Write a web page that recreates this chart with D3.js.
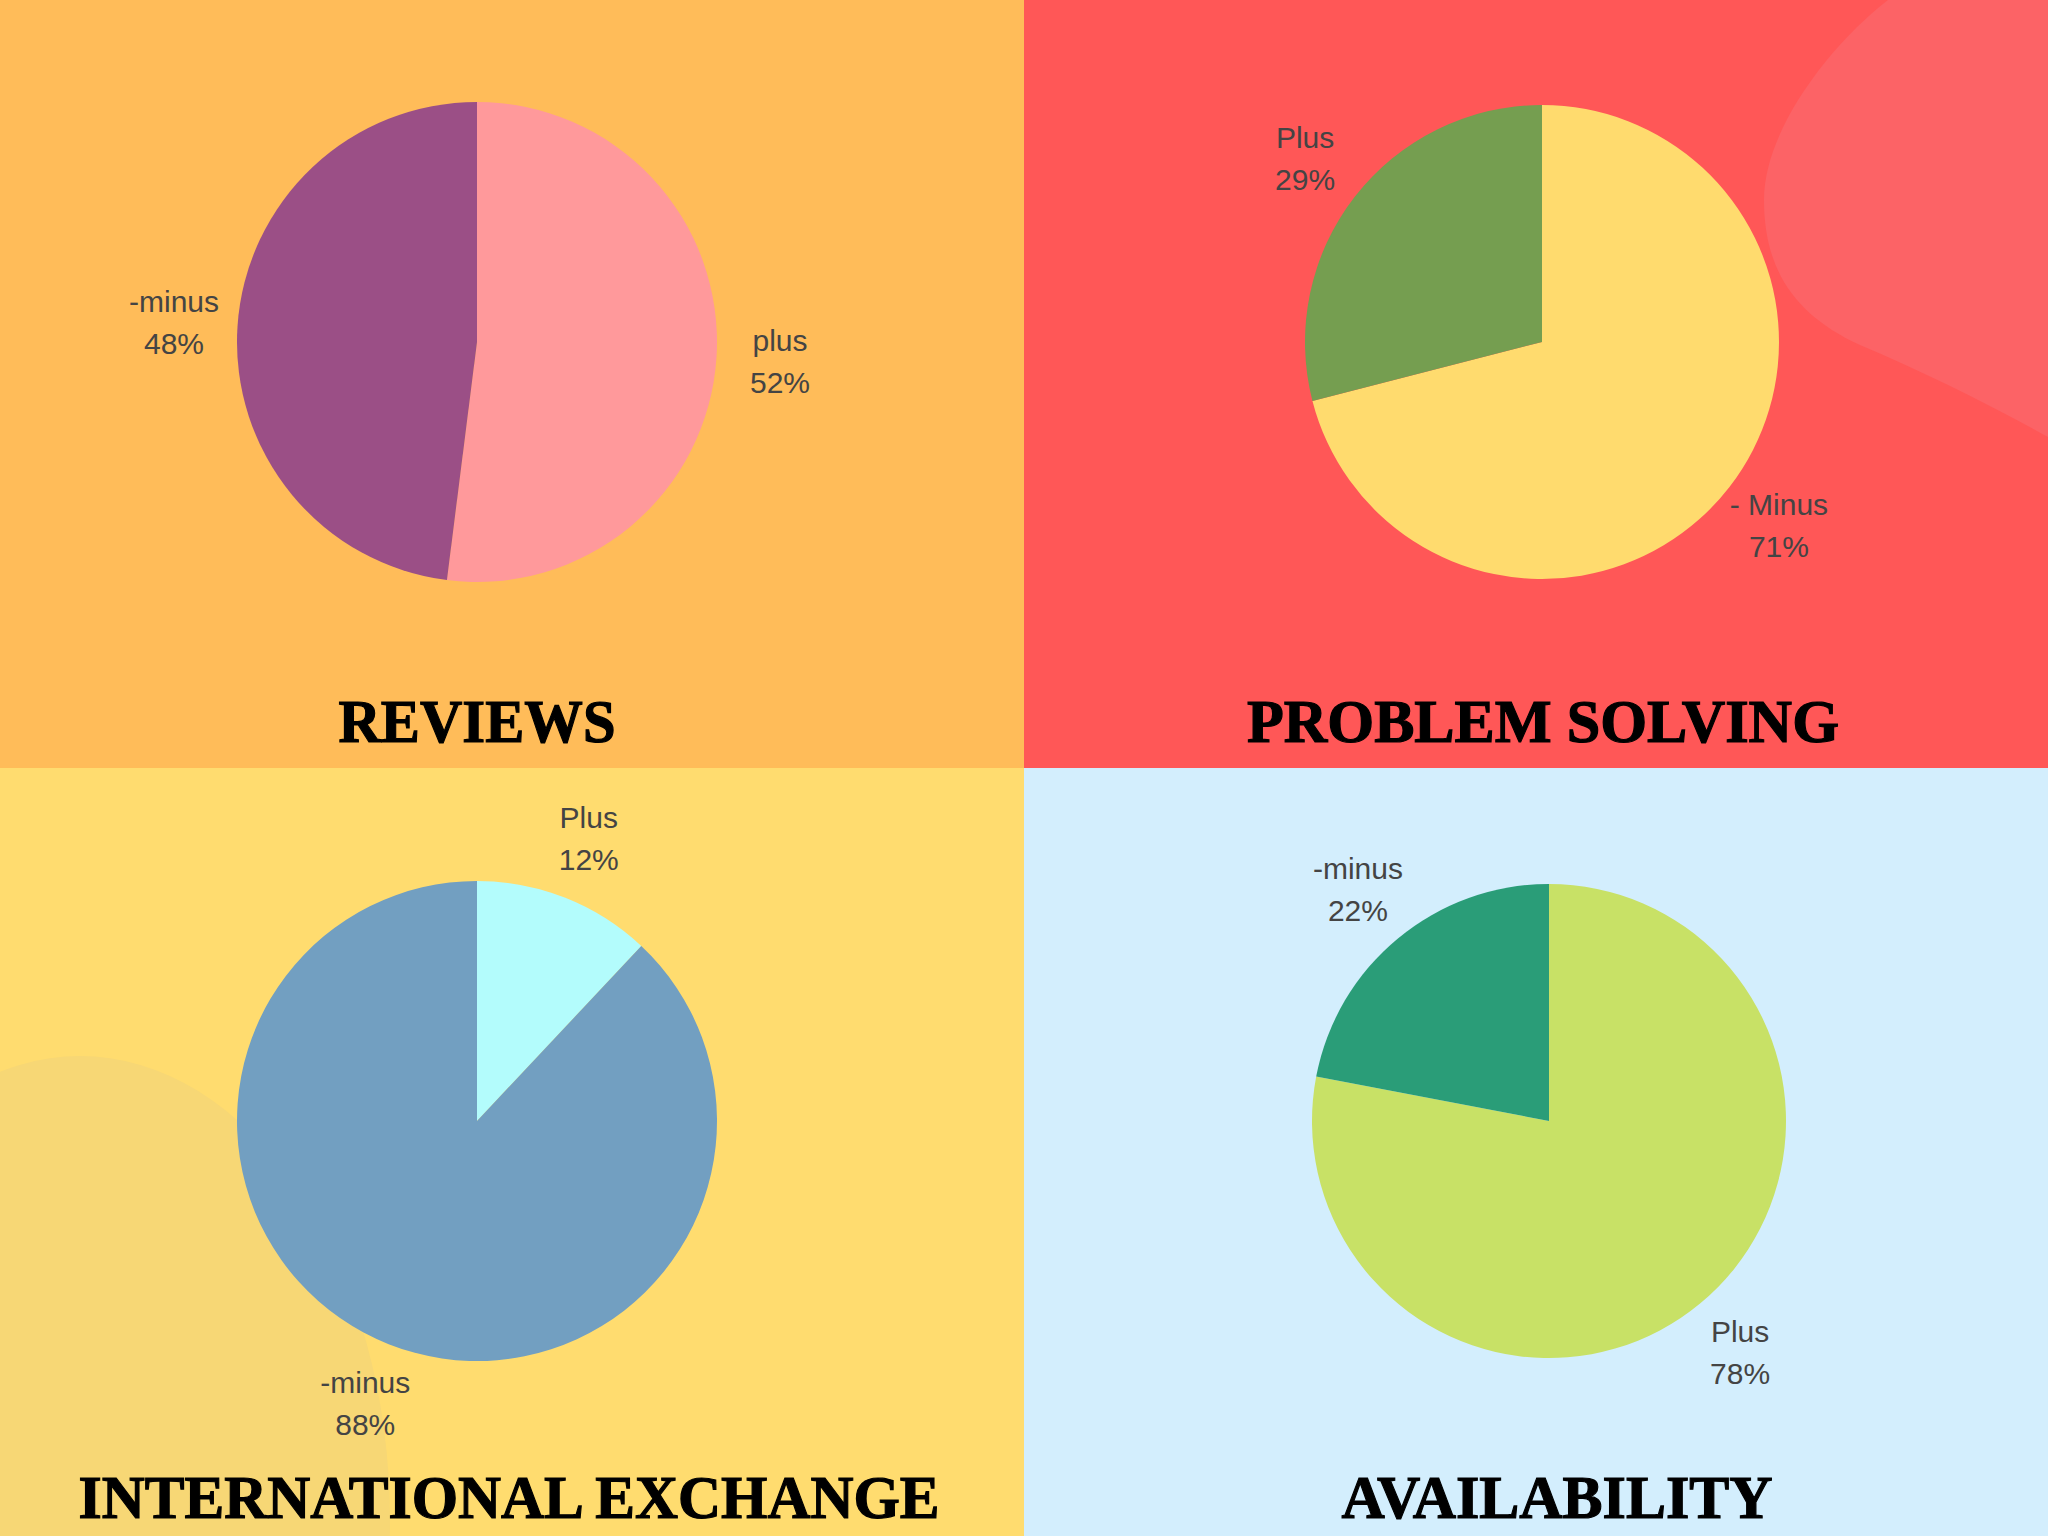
<!DOCTYPE html>
<html>
<head>
<meta charset="utf-8">
<script src="https://cdn.jsdelivr.net/npm/d3@7"></script>
<style>
  html, body { margin: 0; padding: 0; background: #fff; }
  svg { display: block; }
</style>
</head>
<body>
<svg id="chart" width="2048" height="1536"></svg>
<script>
// ---- Data ----
const titles = ["REVIEWS", "PROBLEM SOLVING", "INTERNATIONAL EXCHANGE", "AVAILABILITY"];
const reviewsLabels = ["plus", "-minus"];
const reviewsValues = [52, 48];
const problemLabels = ["- Minus", "Plus"];
const problemValues = [71, 29];
const exchangeLabels = ["Plus", "-minus"];
const exchangeValues = [12, 88];
const availabilityLabels = ["Plus", "-minus"];
const availabilityValues = [78, 22];

// ---- Styles ----
const reviewsColors = ["#FF999B", "#9B4F86"];
const problemColors = ["#FFDB6E", "#759E50"];
const exchangeColors = ["#B3FCFC", "#729FC1"];
const availabilityColors = ["#C8E166", "#2A9D78"];
const panelBackgrounds = ["#FFBC59", "#FF5757", "#FFDC6F", "#D3EEFD"];

const W = 2048, H = 1536;
const svg = d3.select("#chart");

const panels = [
  { title: titles[0], labels: reviewsLabels, values: reviewsValues, colors: reviewsColors,
    x: 0, y: 0, cx: 477, cy: 342, r: 240, tx: 477, ty: 742, tw: 277 },
  { title: titles[1], labels: problemLabels, values: problemValues, colors: problemColors,
    x: 1024, y: 0, cx: 1542, cy: 342, r: 237, tx: 1543, ty: 742, tw: 592 },
  { title: titles[2], labels: exchangeLabels, values: exchangeValues, colors: exchangeColors,
    x: 0, y: 768, cx: 477, cy: 1121, r: 240, tx: 509, ty: 1518, tw: 861 },
  { title: titles[3], labels: availabilityLabels, values: availabilityValues, colors: availabilityColors,
    x: 1024, y: 768, cx: 1549, cy: 1121, r: 237, tx: 1557, ty: 1518, tw: 431 }
];

// backgrounds
panels.forEach((p, i) => {
  svg.append("rect").attr("x", p.x).attr("y", p.y).attr("width", 1024).attr("height", 768)
    .attr("fill", panelBackgrounds[i]);
});

// decorative blobs
svg.append("path")
  .attr("d", "M1888,0 C1830,45 1764,130 1764,200 C1764,270 1795,315 1860,345 C1920,370 1990,405 2048,437 L2048,0 Z")
  .attr("fill", "#FC6366");
svg.append("clipPath").attr("id", "blclip")
  .append("rect").attr("x", 0).attr("y", 768).attr("width", 1024).attr("height", 768);
svg.append("ellipse")
  .attr("clip-path", "url(#blclip)")
  .attr("cx", 80).attr("cy", 1520).attr("rx", 310).attr("ry", 464)
  .attr("fill", "#F7D775");

const pie = d3.pie().sort(null).value(d => d);

panels.forEach(p => {
  const g = svg.append("g").attr("transform", `translate(${p.cx},${p.cy})`);
  const arcs = pie(p.values);
  const arc = d3.arc().innerRadius(0).outerRadius(p.r);
  const labelR = p.r * 1.265;
  const labelArc = d3.arc().innerRadius(labelR).outerRadius(labelR);

  g.selectAll("path.slice").data(arcs).join("path")
    .attr("class", "slice")
    .attr("d", arc)
    .attr("fill", (d, i) => p.colors[i]);

  const lbl = g.selectAll("g.lbl").data(arcs).join("g")
    .attr("class", "lbl")
    .attr("transform", d => `translate(${labelArc.centroid(d)})`);
  lbl.append("text")
    .attr("text-anchor", "middle")
    .attr("y", -10.5)
    .attr("font-family", "Liberation Sans, Arial, sans-serif")
    .attr("font-size", 30)
    .attr("fill", "#444444")
    .text((d, i) => p.labels[i]);
  lbl.append("text")
    .attr("text-anchor", "middle")
    .attr("y", 31.5)
    .attr("font-family", "Liberation Sans, Arial, sans-serif")
    .attr("font-size", 30)
    .attr("fill", "#444444")
    .text((d, i) => Math.round(d.data) + "%");

  svg.append("text")
    .attr("x", p.tx).attr("y", p.ty)
    .attr("text-anchor", "middle")
    .attr("font-family", "Liberation Serif, DejaVu Serif, serif")
    .attr("font-weight", "bold")
    .attr("font-size", 62)
    .attr("fill", "#000")
    .attr("stroke", "#000")
    .attr("stroke-width", 1.2)
    .attr("textLength", p.tw)
    .attr("lengthAdjust", "spacingAndGlyphs")
    .text(p.title);
});
</script>
</body>
</html>
